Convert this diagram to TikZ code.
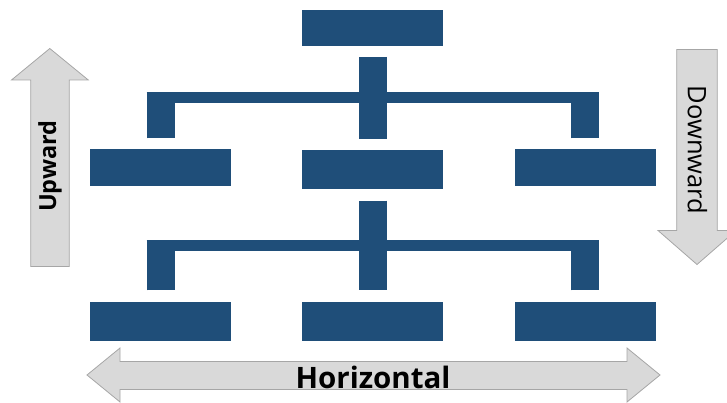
\documentclass[tikz,border=0pt]{standalone}
\usepackage{fontspec}
\setmainfont{Open Sans}
\usetikzlibrary{calc}
\definecolor{boxblue}{HTML}{1F4E79}
\definecolor{arrfill}{HTML}{D9D9D9}
\definecolor{arrline}{HTML}{A6A6A6}
\begin{document}
\begin{tikzpicture}[x=1pt,y=-1pt,
  orgbox/.style={fill=boxblue,draw=none,minimum width=141pt,minimum height=37pt,inner sep=0pt},
  stem/.style={draw=boxblue,line width=28pt,line cap=butt},
  hbar/.style={draw=boxblue,line width=10.5pt,line cap=butt},
  bigarrow/.style={fill=arrfill,draw=arrline,line width=0.8pt,line join=miter},
  lbl/.style={text=black,inner sep=0pt}]
\useasboundingbox (0,0) rectangle (727,403);
% boxes
\node[orgbox,minimum height=36pt] (top) at (372.5,28) {};
\node[orgbox] (l2) at (160.5,168) {};
\node[orgbox,minimum height=39pt] (m2) at (372.5,169.5) {};
\node[orgbox] (r2) at (585,168) {};
\node[orgbox,minimum height=39pt] (l3) at (160.5,321.5) {};
\node[orgbox,minimum height=39pt] (m3) at (372.5,321.5) {};
\node[orgbox,minimum height=39pt] (r3) at (585,321.5) {};
% level 1 connector
\coordinate (y1) at (0,97.75);
\coordinate (d1) at (0,92.5);
\draw[stem] ($(top.south)+(0,10.7)$) -- ($(l2.north)!1!(m2.north)+(0,-11)$);
\draw[hbar] ($(l2.north |- y1)+(-14,0)$) -- ($(r2.north |- y1)+(14,0)$);
\draw[stem] ($(l2.north)+(0,-11)$) -- (l2.north |- d1);
\draw[stem] ($(r2.north)+(0,-11)$) -- (r2.north |- d1);
% level 2 connector
\coordinate (y2) at (0,245.5);
\coordinate (d2) at (0,240);
\draw[stem] ($(m2.south)+(0,11.5)$) -- ($(m3.north)+(0,-11.5)$);
\draw[hbar] ($(l3.north |- y2)+(-14,0)$) -- ($(r3.north |- y2)+(14,0)$);
\draw[stem] ($(l3.north)+(0,-11.5)$) -- (l3.north |- d2);
\draw[stem] ($(r3.north)+(0,-11.5)$) -- (r3.north |- d2);
% upward arrow
\draw[bigarrow] (49.8,48.5) -- (88.3,80) -- (69.3,80) -- (69.3,266.5) -- (30.7,266.5) -- (30.7,80) -- (11.5,80) -- cycle;
\node[lbl,rotate=90,font=\bfseries\fontsize{23.5}{23.5}\selectfont] (up) at (50,166) {Upward};
% downward arrow
\draw[bigarrow] (676.7,49.5) -- (717.3,49.5) -- (717.3,230.5) -- (736,230.5) -- (697,264.5) -- (658,230.5) -- (676.7,230.5) -- cycle;
\node[lbl,rotate=-90,font=\fontsize{25.5}{25.5}\selectfont] (down) at (697.5,150) {Downward};
% horizontal arrow
\draw[bigarrow] (87,375) -- (120,348) -- (120,361.5) -- (627,361.5) -- (627,348) -- (660,375) -- (627,402) -- (627,389.5) -- (120,389.5) -- (120,402) -- cycle;
\node[lbl,font=\bfseries\fontsize{29.5}{29.5}\selectfont] (horiz) at (373,377) {Horizontal};
\end{tikzpicture}
\end{document}
